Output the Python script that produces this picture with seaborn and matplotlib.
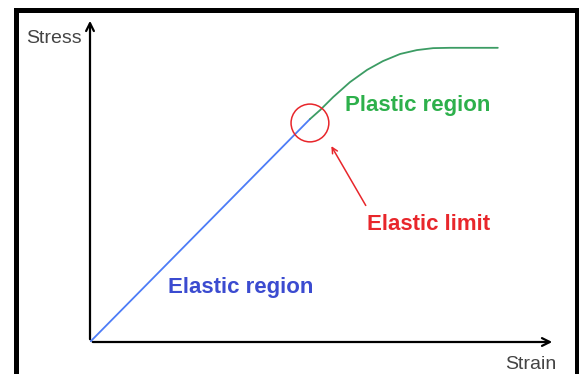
import pandas as pd
import seaborn as sns
import matplotlib.pyplot as plt
from matplotlib.patches import Rectangle

# Stress-strain curve (arbitrary units 0..10)
elastic_strain = [0.0, 4.73]
elastic_stress = [0.0, 6.88]

plastic_strain = [4.73, 4.95, 5.23, 5.59, 5.96, 6.30, 6.67, 7.03, 7.38, 7.74, 8.77]
plastic_stress = [6.88, 7.16, 7.56, 8.02, 8.40, 8.67, 8.89, 9.01, 9.07, 9.08, 9.08]

limit_point = (4.73, 6.76)

sns.set_style('white')
plt.rcParams['font.family'] = ['Liberation Sans', 'DejaVu Sans']

fig = plt.figure(figsize=(5.79, 3.74), dpi=100)
ax = fig.add_axes([90 / 579, 32 / 374, 465 / 579, 324 / 374])
ax.set_xlim(0, 10)
ax.set_ylim(0, 10)
ax.axis('off')

elastic = pd.DataFrame({'strain': elastic_strain, 'stress': elastic_stress})
plastic = pd.DataFrame({'strain': plastic_strain, 'stress': plastic_stress})
sns.lineplot(data=elastic, x='strain', y='stress', ax=ax, color='#4d7cf7', lw=1.3)
sns.lineplot(data=plastic, x='strain', y='stress', ax=ax, color='#3c9c64', lw=1.3, sort=False)

# elastic limit marker
ax.scatter([limit_point[0]], [limit_point[1]], s=740, facecolors='none',
           edgecolors='#e8262b', linewidths=1.1, zorder=5)
ax.annotate('', xy=(5.16, 6.12), xytext=(5.96, 4.14),
            arrowprops=dict(arrowstyle='->', color='#e8262b', lw=1.1))

# axes arrows
arrow = dict(arrowstyle='->', color='black', lw=1.6, mutation_scale=14)
ax.annotate('', xy=(1, 0), xytext=(0, 0), xycoords='axes fraction', arrowprops=arrow)
ax.annotate('', xy=(0, 1), xytext=(0, 0), xycoords='axes fraction', arrowprops=arrow)

ax.text(-1.38, 9.23, 'Stress', fontsize=14, color='#444444', va='baseline', clip_on=False)
ax.text(10.02, -0.83, 'Strain', fontsize=14, color='#444444', ha='right', va='baseline', clip_on=False)

ax.text(5.48, 7.13, 'Plastic region', fontsize=16, fontweight='bold', color='#2db04b', va='baseline')
ax.text(5.96, 3.46, 'Elastic limit', fontsize=16, fontweight='bold', color='#e8262b', va='baseline')
ax.text(1.68, 1.51, 'Elastic region', fontsize=16, fontweight='bold', color='#3b4bd0', va='baseline')

# black frame around the picture
fig.add_artist(Rectangle((15.5 / 579, -0.1), (577 - 15.5) / 579, 1.1 - 10.5 / 374,
                         transform=fig.transFigure, fill=False, edgecolor='black', lw=3.6))

fig.savefig('out.png', dpi=100)
